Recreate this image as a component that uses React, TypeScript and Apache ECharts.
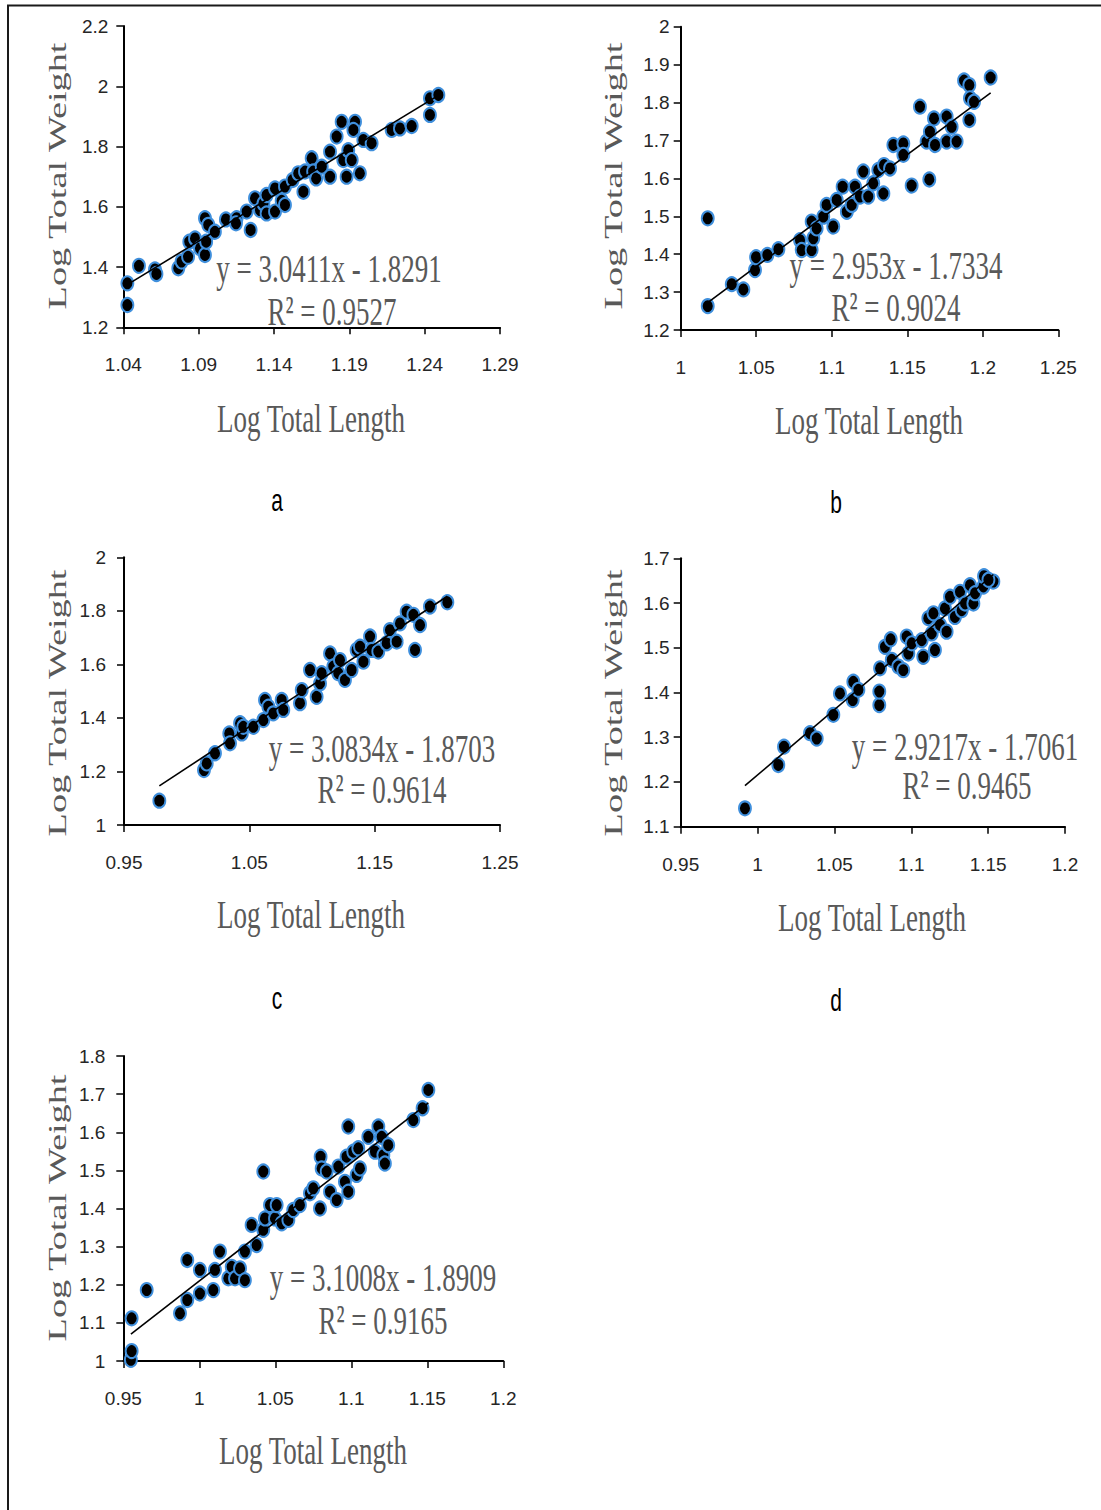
import React, { useEffect, useRef } from "react";
import * as echarts from "echarts";

// ---------- data ----------
const A_X = [1.0427, 1.0427, 1.0504, 1.061, 1.062, 1.0765, 1.0787, 1.083, 1.0838, 1.0876, 1.0909, 1.0942, 1.095, 1.0942, 1.0964, 1.1008, 1.1081, 1.1152, 1.1148, 1.1219, 1.1245, 1.1274, 1.1307, 1.133, 1.1351, 1.1351, 1.1407, 1.1407, 1.1451, 1.1473, 1.1473, 1.1524, 1.1561, 1.1595, 1.1606, 1.165, 1.166, 1.168, 1.1717, 1.1772, 1.1772, 1.1816, 1.1849, 1.186, 1.1882, 1.1893, 1.1916, 1.1938, 1.1927, 1.197, 1.1993, 1.2048, 1.2181, 1.2236, 1.2314, 1.2435, 1.2435, 1.2491];
const A_Y = [1.274, 1.346, 1.404, 1.392, 1.377, 1.396, 1.418, 1.434, 1.484, 1.495, 1.462, 1.44, 1.484, 1.562, 1.54, 1.517, 1.558, 1.562, 1.545, 1.584, 1.523, 1.628, 1.589, 1.611, 1.639, 1.578, 1.661, 1.584, 1.62, 1.667, 1.606, 1.689, 1.711, 1.65, 1.717, 1.761, 1.717, 1.694, 1.733, 1.783, 1.7, 1.833, 1.882, 1.755, 1.7, 1.788, 1.755, 1.882, 1.855, 1.711, 1.822, 1.811, 1.855, 1.86, 1.868, 1.905, 1.96, 1.971];

const B_X = [1.0179, 1.0179, 1.0338, 1.0415, 1.0492, 1.0499, 1.0574, 1.0647, 1.079, 1.0801, 1.0867, 1.0878, 1.0867, 1.09, 1.0944, 1.0966, 1.101, 1.1033, 1.1072, 1.11, 1.1132, 1.1154, 1.1187, 1.1209, 1.1242, 1.1275, 1.1308, 1.1342, 1.1346, 1.1386, 1.1408, 1.1474, 1.1474, 1.1529, 1.1584, 1.1628, 1.1646, 1.165, 1.1677, 1.1684, 1.1761, 1.1761, 1.1794, 1.1827, 1.1876, 1.1911, 1.1911, 1.1915, 1.1942, 1.2052];
const B_Y = [1.4945, 1.263, 1.321, 1.307, 1.358, 1.392, 1.398, 1.413, 1.437, 1.411, 1.411, 1.442, 1.486, 1.468, 1.499, 1.53, 1.473, 1.543, 1.578, 1.512, 1.53, 1.578, 1.552, 1.618, 1.552, 1.587, 1.622, 1.56, 1.635, 1.626, 1.688, 1.692, 1.662, 1.581, 1.789, 1.697, 1.597, 1.723, 1.758, 1.688, 1.763, 1.697, 1.736, 1.697, 1.858, 1.846, 1.754, 1.811, 1.802, 1.866];

const C_X = [0.9782, 1.0138, 1.016, 1.0226, 1.034, 1.0346, 1.0426, 1.044, 1.0452, 1.0532, 1.0612, 1.0625, 1.0652, 1.0691, 1.0758, 1.0771, 1.0904, 1.0918, 1.0984, 1.1037, 1.1064, 1.1077, 1.1144, 1.117, 1.121, 1.1223, 1.1263, 1.1316, 1.1356, 1.1383, 1.141, 1.1463, 1.1476, 1.1529, 1.1596, 1.1622, 1.1676, 1.1702, 1.1755, 1.1809, 1.1822, 1.1862, 1.1941, 1.208];
const C_Y = [1.091, 1.205, 1.23, 1.268, 1.342, 1.305, 1.38, 1.342, 1.367, 1.367, 1.392, 1.467, 1.442, 1.417, 1.467, 1.43, 1.455, 1.504, 1.579, 1.479, 1.529, 1.567, 1.641, 1.592, 1.567, 1.616, 1.542, 1.579, 1.654, 1.666, 1.61, 1.704, 1.654, 1.648, 1.679, 1.728, 1.685, 1.753, 1.797, 1.785, 1.654, 1.747, 1.816, 1.832];

const D_X = [0.9918, 1.0135, 1.0172, 1.0341, 1.0385, 1.0493, 1.0536, 1.0619, 1.0623, 1.0656, 1.0792, 1.0792, 1.0797, 1.0829, 1.0866, 1.0873, 1.0916, 1.0948, 1.097, 1.0981, 1.1003, 1.1068, 1.1078, 1.1111, 1.1133, 1.1144, 1.1154, 1.1187, 1.1219, 1.123, 1.1252, 1.1284, 1.1317, 1.1328, 1.135, 1.1382, 1.1404, 1.1415, 1.1469, 1.1473, 1.1534, 1.1502];
const D_Y = [1.141, 1.238, 1.279, 1.309, 1.297, 1.35, 1.398, 1.383, 1.424, 1.406, 1.372, 1.402, 1.454, 1.502, 1.519, 1.473, 1.458, 1.45, 1.525, 1.487, 1.51, 1.517, 1.48, 1.566, 1.532, 1.577, 1.495, 1.551, 1.588, 1.536, 1.614, 1.569, 1.625, 1.584, 1.599, 1.64, 1.599, 1.622, 1.637, 1.66, 1.648, 1.652];

const E_X = [0.955, 0.9555, 0.9555, 0.9654, 0.9873, 0.9921, 0.9921, 1.0004, 1.0004, 1.0092, 1.0103, 1.0136, 1.0191, 1.0213, 1.0235, 1.0268, 1.03, 1.03, 1.0344, 1.0377, 1.0421, 1.0421, 1.0432, 1.0465, 1.0498, 1.0509, 1.0542, 1.0586, 1.0618, 1.0662, 1.0728, 1.075, 1.0794, 1.0798, 1.0805, 1.0838, 1.086, 1.0904, 1.0915, 1.0958, 1.0969, 1.098, 1.098, 1.1013, 1.1035, 1.1046, 1.1057, 1.1112, 1.1156, 1.1178, 1.12, 1.1211, 1.1221, 1.1243, 1.1408, 1.1469, 1.1507];
const E_Y = [1.003, 1.026, 1.112, 1.186, 1.125, 1.16, 1.265, 1.177, 1.239, 1.186, 1.239, 1.287, 1.217, 1.247, 1.217, 1.243, 1.212, 1.287, 1.357, 1.304, 1.497, 1.344, 1.374, 1.409, 1.374, 1.409, 1.361, 1.37, 1.396, 1.409, 1.44, 1.453, 1.4, 1.536, 1.505, 1.497, 1.444, 1.422, 1.51, 1.47, 1.536, 1.444, 1.615, 1.549, 1.488, 1.558, 1.505, 1.588, 1.549, 1.615, 1.588, 1.54, 1.518, 1.566, 1.632, 1.663, 1.711];

const SLOPES = [3.0411, 2.953, 3.0834, 2.9217, 3.1008];
const INTERCEPTS = [-1.8291, -1.7334, -1.8703, -1.7061, -1.8909];
const EQ_TEXTS = ["y = 3.0411x - 1.8291", "y = 2.953x - 1.7334", "y = 3.0834x - 1.8703", "y = 2.9217x - 1.7061", "y = 3.1008x - 1.8909"];
const R2_TEXTS = ["R² = 0.9527", "R² = 0.9024", "R² = 0.9614", "R² = 0.9465", "R² = 0.9165"];
const LETTERS = ["a", "b", "c", "d"];
const X_TITLE = "Log Total Length";
const Y_TITLE = "Log Total Weight";

const X_MIN = [1.04, 1, 0.95, 0.95, 0.95];
const X_MAX = [1.29, 1.25, 1.25, 1.2, 1.2];
const X_INT = [0.05, 0.05, 0.1, 0.05, 0.05];
const Y_MIN = [1.2, 1.2, 1, 1.1, 1];
const Y_MAX = [2.2, 2, 2, 1.7, 1.8];
const Y_INT = [0.2, 0.1, 0.2, 0.1, 0.1];

const XS = [A_X, B_X, C_X, D_X, E_X];
const YS = [A_Y, B_Y, C_Y, D_Y, E_Y];

// ---------- layout ----------
const GRIDS = [
  { left: 123.3, top: 26, width: 376.7, height: 301.3 },
  { left: 680.7, top: 26.7, width: 377.6, height: 303.3 },
  { left: 124, top: 557.3, width: 376, height: 267.7 },
  { left: 680.7, top: 558.3, width: 384.3, height: 268.4 },
  { left: 123.3, top: 1056, width: 380, height: 305 },
];
const Y_LABEL_MARGIN = [15, 11, 18, 11, 18];
const X_TITLE_POS = [[311, 418], [869, 420], [311, 914], [872, 917], [313, 1450]];
const Y_TITLE_POS = [[57, 176], [613, 176], [57, 703], [613, 703], [57, 1208]];
const EQ_POS = [[329, 268], [896, 265], [382, 748], [965, 746], [383, 1277]];
const R2_POS = [[332, 311], [896, 307], [382, 789], [967, 785], [383, 1320]];
const LETTER_POS = [[277, 500], [836, 502], [277, 998], [836, 1000]];

const fmt = (v: number) => String(parseFloat(v.toFixed(2)));

export default function App() {
  const ref = useRef<HTMLDivElement>(null);
  useEffect(() => {
    if (!ref.current) return;
    const chart = echarts.init(ref.current, null, { renderer: "svg" });
    const grid = GRIDS.map((g) => ({ ...g, containLabel: false }));
    const axisCommon = {
      type: "value" as const,
      axisLine: { show: true, onZero: false, lineStyle: { color: "#000", width: 2 } },
      axisTick: { show: true, inside: false, length: 7, lineStyle: { color: "#000", width: 1.5 } },
      splitLine: { show: false },
    };
    const labelFont = "'Liberation Sans', Arial, sans-serif";
    const xAxis = GRIDS.map((_, i) => ({
      ...axisCommon,
      gridIndex: i,
      min: X_MIN[i],
      max: X_MAX[i],
      interval: X_INT[i],
      axisLabel: { margin: 28, formatter: fmt, color: "#262626", fontSize: 19, fontFamily: labelFont },
    }));
    const yAxis = GRIDS.map((_, i) => ({
      ...axisCommon,
      gridIndex: i,
      min: Y_MIN[i],
      max: Y_MAX[i],
      interval: Y_INT[i],
      axisLabel: { margin: Y_LABEL_MARGIN[i], formatter: fmt, color: "#262626", fontSize: 19, fontFamily: labelFont },
    }));
    const series: any[] = [];
    XS.forEach((xs, i) => {
      const ys = YS[i];
      series.push({
        type: "scatter",
        xAxisIndex: i,
        yAxisIndex: i,
        symbol: "circle",
        symbolSize: [12, 14],
        itemStyle: { color: "#000", borderColor: "#3f8fdc", borderWidth: 2, opacity: 1 },
        data: xs.map((x, k) => [x, ys[k]]),
        z: 2,
      });
      const x0 = Math.min(...xs);
      const x1 = Math.max(...xs);
      series.push({
        type: "line",
        xAxisIndex: i,
        yAxisIndex: i,
        showSymbol: false,
        symbol: "none",
        lineStyle: { color: "#000", width: 1.6 },
        data: [
          [x0, SLOPES[i] * x0 + INTERCEPTS[i]],
          [x1, SLOPES[i] * x1 + INTERCEPTS[i]],
        ],
        z: 3,
        silent: true,
      });
    });

    const serif = "'Liberation Serif', 'Times New Roman', serif";
    const graphic: any[] = [];
    graphic.push({
      type: "line",
      shape: { x1: 7, y1: 5.5, x2: 1101, y2: 5.5 },
      style: { stroke: "#1a1a1a", lineWidth: 2 },
    });
    graphic.push({
      type: "line",
      shape: { x1: 8, y1: 5, x2: 8, y2: 1510 },
      style: { stroke: "#1a1a1a", lineWidth: 2 },
    });
    for (let i = 0; i < 5; i++) {
      graphic.push({
        type: "text",
        x: X_TITLE_POS[i][0],
        y: X_TITLE_POS[i][1],
        scaleY: 1.5,
        z: 10,
        style: { text: X_TITLE, fontSize: 27, fontFamily: serif, fill: "#595959", align: "center", verticalAlign: "middle" },
      });
      graphic.push({
        type: "text",
        x: Y_TITLE_POS[i][0],
        y: Y_TITLE_POS[i][1],
        rotation: Math.PI / 2,
        scaleX: 1.5,
        z: 10,
        style: { text: Y_TITLE, fontSize: 25.5, fontFamily: serif, fill: "#595959", align: "center", verticalAlign: "middle" },
      });
      graphic.push({
        type: "text",
        x: EQ_POS[i][0],
        y: EQ_POS[i][1],
        scaleY: 1.5,
        z: 1,
        style: { text: EQ_TEXTS[i], fontSize: 27, fontFamily: serif, fill: "#595959", align: "center", verticalAlign: "middle" },
      });
      graphic.push({
        type: "text",
        x: R2_POS[i][0],
        y: R2_POS[i][1],
        scaleY: 1.5,
        z: 1,
        style: { text: R2_TEXTS[i], fontSize: 27, fontFamily: serif, fill: "#595959", align: "center", verticalAlign: "middle" },
      });
    }
    LETTERS.forEach((t, i) => {
      graphic.push({
        type: "text",
        x: LETTER_POS[i][0],
        y: LETTER_POS[i][1],
        scaleY: 1.5,
        style: { text: t, fontSize: 21, fontFamily: labelFont, fill: "#000", align: "center", verticalAlign: "middle" },
      });
    });

    chart.setOption({
      animation: false,
      backgroundColor: "#fff",
      grid,
      xAxis,
      yAxis,
      series,
      graphic: { elements: graphic },
    });
    return () => chart.dispose();
  }, []);
  return (
    <div
      ref={ref}
      style={{ position: "absolute", left: 0, top: 0, width: 1101, height: 1510 }}
    />
  );
}
